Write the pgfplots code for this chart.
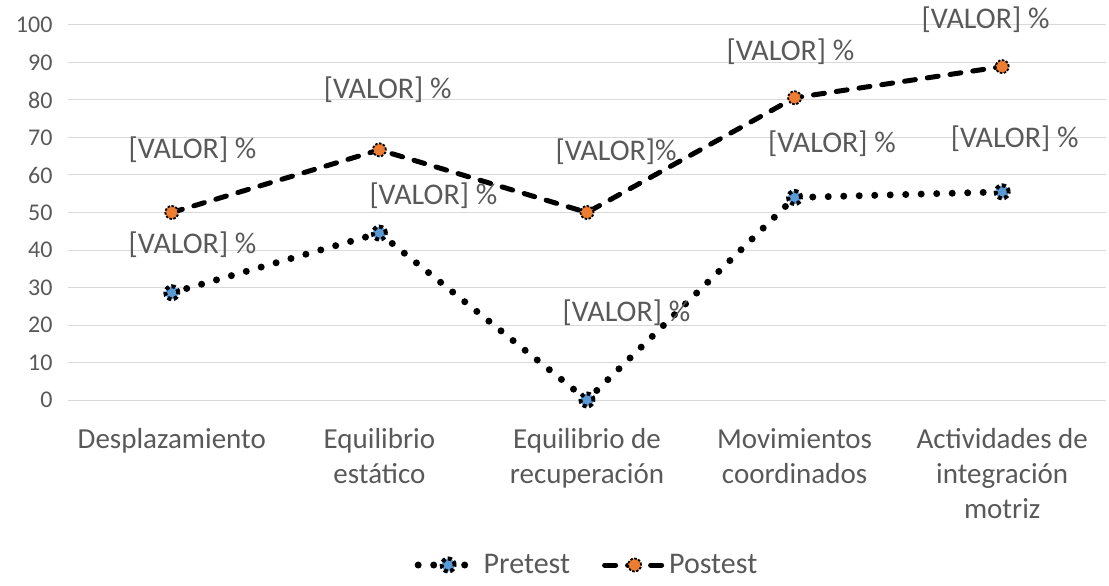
\documentclass[border=0pt]{standalone}
\usepackage{pgfplots}
\pgfplotsset{compat=1.18}
\usepackage{fontspec}
\setmainfont{Carlito}
\definecolor{txt}{HTML}{595959}
\definecolor{gridc}{HTML}{D9D9D9}
\definecolor{pblue}{HTML}{5B9BD5}
\definecolor{porange}{HTML}{ED7D31}
\begin{document}
\begin{tikzpicture}
\begin{axis}[
  scale only axis, width=1038pt, height=375pt,
  xmin=-0.5, xmax=4.5, ymin=0, ymax=100,
  ytick={0,10,...,100},
  xtick={0,1,2,3,4},
  xticklabels={Desplazamiento, Equilibrio\\estático, Equilibrio de\\recuperación, Movimientos\\coordinados, Actividades de\\integración\\motriz},
  xticklabel style={align=center, text=txt, font=\fontsize{29}{35}\selectfont, yshift=-25pt},
  yticklabel style={text=txt, font=\fontsize{24}{28}\selectfont, xshift=-12pt},
  /pgf/number format/assume math mode=true,
  major tick length=0pt,
  axis line style={draw=none},
  xmajorgrids=false, ymajorgrids=true, grid style={draw=gridc, line width=1pt},
  clip=false,
  legend style={at={(0.5,0)}, anchor=center, yshift=-165pt, draw=none, fill=none,
    font=\fontsize{30}{34}\selectfont, text=txt, legend columns=2,
    /tikz/every even column/.append style={column sep=30pt}},
  legend image code/.code={\draw[mark repeat=2,mark phase=2,#1] plot coordinates {(0pt,0pt) (30pt,0pt) (60pt,0pt)};},
]
\addplot[black, line width=7pt, line cap=round, dash pattern=on 0pt off 15.5pt,
  mark=*, mark size=6.5pt, mark options={solid, fill=pblue, draw=black, line width=4pt, dash pattern=on 4pt off 2.5pt, line cap=butt}]
  coordinates {(0,28.6) (1,44.5) (2,0) (3,54) (4,55.5)};
\addlegendentry{Pretest}
\addplot[black, line width=5pt, line cap=round, dash pattern=on 11pt off 12pt,
  mark=*, mark size=6.5pt, mark options={solid, fill=porange, draw=black, line width=1.8pt, dash pattern=on 2.5pt off 1.5pt, line cap=butt}]
  coordinates {(0,50) (1,66.7) (2,50) (3,80.6) (4,88.9)};
\addlegendentry{Postest}
\begin{scope}[every node/.style={text=txt, font=\fontsize{30}{34}\selectfont}]
\node at (axis cs:0.10,41.3) {[VALOR] \%};
\node at (axis cs:1.26,54.4) {[VALOR] \%};
\node at (axis cs:2.19,23.2) {[VALOR] \%};
\node at (axis cs:3.18,68.3) {[VALOR] \%};
\node at (axis cs:4.06,69.6) {[VALOR] \%};
\node at (axis cs:0.10,66.7) {[VALOR] \%};
\node at (axis cs:1.04,82.7) {[VALOR] \%};
\node at (axis cs:2.14,66.1) {[VALOR]\%};
\node at (axis cs:2.98,92.8) {[VALOR] \%};
\node at (axis cs:3.92,101.3) {[VALOR] \%};
\end{scope}
\end{axis}
\pgfresetboundingbox
\path ([shift={(-68pt,-185pt)}]current axis.south west) rectangle ([shift={(3pt,25pt)}]current axis.north east);
\end{tikzpicture}
\end{document}
